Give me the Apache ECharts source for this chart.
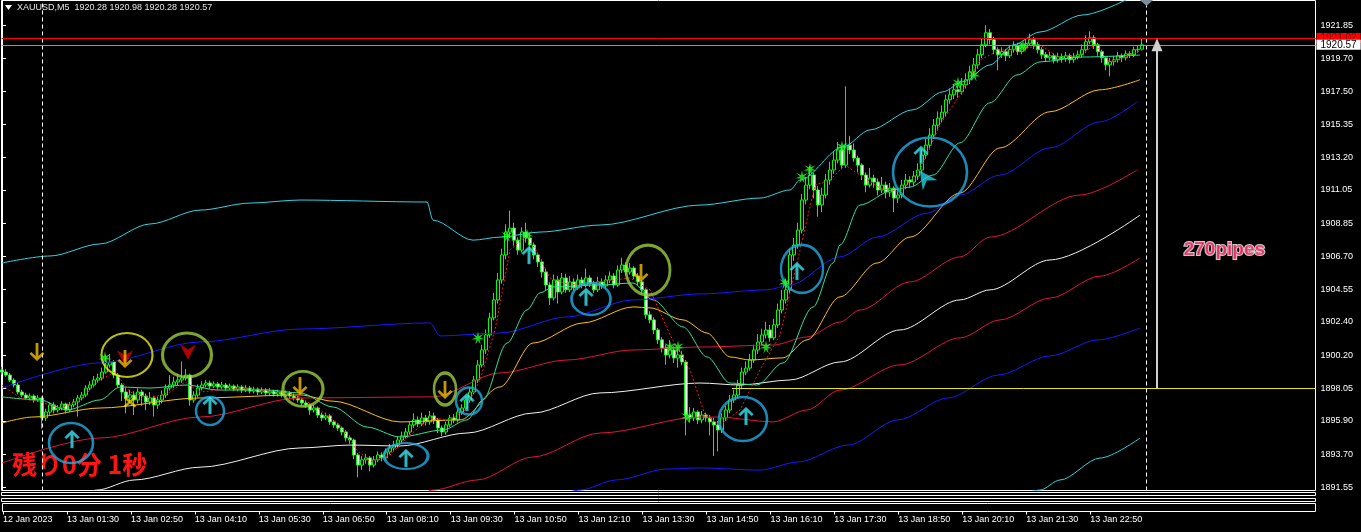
<!DOCTYPE html>
<html><head><meta charset="utf-8">
<script src="https://cdn.jsdelivr.net/npm/echarts@6/dist/echarts.min.js"></script>
<style>html,body{margin:0;padding:0;background:#000;overflow:hidden}#c{width:1361px;height:532px}</style>
</head><body><div id="c"></div>
<script>
// ---------- data ----------
const headerText = 'XAUUSD,M5  1920.28 1920.98 1920.28 1920.57';
const timeTicks = [0,16,32,48,64,80,96,112,128,144,160,176,192,208,224,240,256,272];
const timeLabels = ['12 Jan 2023','13 Jan 01:30','13 Jan 02:50','13 Jan 04:10','13 Jan 05:30','13 Jan 06:50','13 Jan 08:10','13 Jan 09:30','13 Jan 10:50','13 Jan 12:10','13 Jan 13:30','13 Jan 14:50','13 Jan 16:10','13 Jan 17:30','13 Jan 18:50','13 Jan 20:10','13 Jan 21:30','13 Jan 22:50'];
const priceTicks = [1891.55,1893.70,1895.90,1898.05,1900.20,1902.40,1904.55,1906.70,1908.85,1911.05,1913.20,1915.35,1917.50,1919.70,1921.85];

const opens = [1899.25,1899.11,1898.91,1898.58,1898.26,1897.80,1897.60,1897.41,1897.54,1897.28,
1897.41,1896.10,1896.49,1896.95,1896.62,1896.75,1897.01,1896.62,1896.95,1897.15,
1897.41,1897.60,1898.06,1898.26,1898.59,1898.72,1899.11,1899.57,1899.77,1898.91,
1898.26,1897.80,1897.41,1897.60,1897.28,1897.80,1897.54,1897.15,1897.41,1896.95,
1897.28,1897.60,1898.06,1898.26,1898.46,1898.59,1898.72,1898.91,1897.28,1897.60,
1898.06,1898.26,1898.39,1898.19,1898.33,1898.13,1898.26,1898.06,1898.19,1897.99,
1898.13,1897.93,1898.06,1897.86,1897.99,1897.80,1897.93,1897.74,1897.86,1897.67,
1897.80,1897.60,1897.74,1897.54,1897.41,1897.28,1897.08,1896.95,1896.62,1896.75,
1896.29,1896.10,1896.23,1895.84,1895.64,1895.44,1895.18,1894.79,1894.65,1893.67,
1893.01,1893.35,1893.48,1893.01,1893.35,1893.67,1893.48,1893.87,1894.13,1894.33,
1894.65,1894.92,1895.18,1895.64,1895.97,1895.71,1896.10,1895.84,1896.23,1895.97,
1895.44,1895.18,1895.64,1896.10,1895.97,1896.49,1896.75,1897.28,1897.80,1898.59,
1899.57,1900.56,1901.54,1902.66,1903.84,1905.15,1906.79,1908.29,1908.55,1907.76,
1907.11,1908.29,1907.90,1907.44,1906.79,1906.33,1905.67,1904.82,1903.97,1905.15,
1904.36,1905.28,1904.50,1905.02,1904.63,1905.15,1904.82,1905.28,1904.89,1904.50,
1905.02,1904.76,1905.15,1905.41,1904.82,1905.80,1906.13,1905.67,1905.93,1905.41,
1905.02,1904.50,1902.86,1902.53,1901.87,1901.22,1900.69,1900.23,1900.56,1900.03,
1900.23,1899.77,1896.29,1896.10,1896.49,1895.97,1896.29,1896.10,1895.84,1895.64,
1895.31,1896.10,1896.62,1897.28,1897.60,1898.26,1899.11,1899.37,1899.90,1900.56,
1901.08,1901.54,1901.87,1901.35,1902.20,1903.18,1903.84,1904.50,1906.79,1907.44,
1908.42,1910.39,1911.37,1912.03,1911.05,1910.07,1910.72,1911.70,1912.36,1913.01,
1913.67,1912.68,1913.99,1913.67,1913.14,1912.68,1912.03,1911.37,1911.83,1911.57,
1911.05,1911.37,1910.91,1911.17,1910.52,1910.72,1911.37,1911.70,1911.57,1911.96,
1912.36,1913.34,1913.99,1914.65,1915.30,1915.76,1916.15,1916.96,1917.29,1917.62,
1917.49,1917.95,1918.28,1918.80,1919.26,1919.92,1920.57,1921.36,1920.90,1920.25,
1919.92,1920.12,1919.85,1920.25,1920.51,1920.12,1920.38,1920.64,1920.90,1920.57,
1920.25,1919.92,1919.72,1919.85,1919.59,1919.79,1919.66,1919.85,1919.59,1919.79,
1919.92,1920.25,1920.77,1921.03,1920.57,1920.12,1919.72,1919.26,1919.46,1919.59,
1919.85,1919.72,1919.98,1919.92,1920.25,1920.28];

const closes = [1899.11,1898.91,1898.58,1898.26,1897.80,1897.60,1897.41,1897.54,1897.28,1897.41,
1896.10,1896.49,1896.95,1896.62,1896.75,1897.01,1896.62,1896.95,1897.15,1897.41,
1897.60,1898.06,1898.26,1898.59,1898.72,1899.11,1899.57,1899.77,1898.91,1898.26,
1897.80,1897.41,1897.60,1897.28,1897.80,1897.54,1897.15,1897.41,1896.95,1897.28,
1897.60,1898.06,1898.26,1898.46,1898.59,1898.72,1898.91,1897.28,1897.60,1898.06,
1898.26,1898.39,1898.19,1898.33,1898.13,1898.26,1898.06,1898.19,1897.99,1898.13,
1897.93,1898.06,1897.86,1897.99,1897.80,1897.93,1897.74,1897.86,1897.67,1897.80,
1897.60,1897.74,1897.54,1897.41,1897.28,1897.08,1896.95,1896.62,1896.75,1896.29,
1896.10,1896.23,1895.84,1895.64,1895.44,1895.18,1894.79,1894.65,1893.67,1893.01,
1893.35,1893.48,1893.01,1893.35,1893.67,1893.48,1893.87,1894.13,1894.33,1894.65,
1894.92,1895.18,1895.64,1895.97,1895.71,1896.10,1895.84,1896.23,1895.97,1895.44,
1895.18,1895.64,1896.10,1895.97,1896.49,1896.75,1897.28,1897.80,1898.59,1899.57,
1900.56,1901.54,1902.66,1903.84,1905.15,1906.79,1908.29,1908.55,1907.76,1907.11,
1908.29,1907.90,1907.44,1906.79,1906.33,1905.67,1904.82,1903.97,1905.15,1904.36,
1905.28,1904.50,1905.02,1904.63,1905.15,1904.82,1905.28,1904.89,1904.50,1905.02,
1904.76,1905.15,1905.41,1904.82,1905.80,1906.13,1905.67,1905.93,1905.41,1905.02,
1904.50,1902.86,1902.53,1901.87,1901.22,1900.69,1900.23,1900.56,1900.03,1900.23,
1899.77,1896.29,1896.10,1896.49,1895.97,1896.29,1896.10,1895.84,1895.64,1895.31,
1896.10,1896.62,1897.28,1897.60,1898.26,1899.11,1899.37,1899.90,1900.56,1901.08,
1901.54,1901.87,1901.35,1902.20,1903.18,1903.84,1904.50,1906.79,1907.44,1908.42,
1910.39,1911.37,1912.03,1911.05,1910.07,1910.72,1911.70,1912.36,1913.01,1913.67,
1912.68,1913.99,1913.67,1913.14,1912.68,1912.03,1911.37,1911.83,1911.57,1911.05,
1911.37,1910.91,1911.17,1910.52,1910.72,1911.37,1911.70,1911.57,1911.96,1912.36,
1913.34,1913.99,1914.65,1915.30,1915.76,1916.15,1916.96,1917.29,1917.62,1917.49,
1917.95,1918.28,1918.80,1919.26,1919.92,1920.57,1921.36,1920.90,1920.25,1919.92,
1920.12,1919.85,1920.25,1920.51,1920.12,1920.38,1920.64,1920.90,1920.57,1920.25,
1919.92,1919.72,1919.85,1919.59,1919.79,1919.66,1919.85,1919.59,1919.79,1919.92,
1920.25,1920.77,1921.03,1920.57,1920.12,1919.72,1919.26,1919.46,1919.59,1919.85,
1919.72,1919.98,1919.92,1920.25,1920.28,1920.57];

const highs = [1899.45,1899.30,1899.05,1898.70,1898.40,1897.95,1897.75,1897.70,1897.65,1897.60,
1897.50,1896.70,1897.10,1897.15,1896.95,1897.20,1897.10,1897.15,1897.35,1897.60,
1897.80,1898.25,1898.50,1898.85,1899.00,1899.40,1900.20,1900.30,1899.90,1899.05,
1898.40,1898.10,1897.95,1897.85,1898.05,1897.95,1897.70,1897.80,1897.55,1897.50,
1897.90,1898.30,1898.90,1898.80,1899.00,1899.80,1899.30,1899.00,1897.85,1898.30,
1898.50,1898.60,1898.55,1898.50,1898.45,1898.45,1898.40,1898.35,1898.30,1898.30,
1898.25,1898.25,1898.20,1898.15,1898.10,1898.10,1898.05,1898.05,1897.95,1897.95,
1897.90,1897.90,1897.85,1897.70,1897.55,1897.40,1897.20,1897.05,1896.95,1896.85,
1896.45,1896.45,1896.35,1895.95,1895.75,1895.55,1895.30,1894.95,1894.75,1893.80,
1893.60,1893.75,1893.60,1893.60,1893.90,1893.85,1894.10,1894.40,1894.60,1894.90,
1895.20,1895.45,1895.90,1896.40,1896.20,1896.45,1896.30,1896.55,1896.45,1896.10,
1895.60,1895.85,1896.30,1896.35,1896.70,1897.00,1897.55,1898.10,1898.85,1899.90,
1900.90,1901.90,1903.00,1904.30,1905.60,1907.20,1908.80,1909.70,1908.90,1907.95,
1908.60,1908.90,1908.20,1907.60,1906.95,1906.50,1905.90,1905.00,1905.50,1905.40,
1905.60,1905.55,1905.40,1905.25,1905.50,1905.35,1905.90,1905.45,1905.10,1905.35,
1905.25,1905.45,1905.70,1905.60,1906.10,1906.60,1906.30,1906.25,1906.05,1905.60,
1905.15,1904.60,1903.10,1902.70,1902.00,1901.40,1900.90,1901.20,1900.80,1900.70,
1900.50,1899.90,1896.80,1896.75,1896.60,1896.55,1896.45,1896.30,1896.10,1895.90,
1896.40,1896.90,1897.60,1897.95,1898.60,1899.40,1899.80,1900.30,1900.90,1901.60,
1901.95,1902.40,1902.20,1902.60,1903.60,1904.50,1905.20,1907.20,1907.90,1908.90,
1910.80,1911.90,1912.60,1912.20,1911.30,1911.20,1912.10,1912.90,1913.60,1914.20,
1913.90,1917.85,1914.60,1914.10,1913.30,1912.80,1912.20,1912.50,1912.05,1911.80,
1911.90,1911.60,1911.50,1911.30,1911.20,1911.70,1912.10,1911.95,1912.30,1912.80,
1913.70,1914.40,1915.10,1915.70,1916.20,1916.60,1917.30,1917.70,1918.00,1917.90,
1918.40,1918.70,1919.20,1919.70,1920.30,1921.00,1921.85,1921.60,1921.10,1920.40,
1920.40,1920.30,1920.55,1920.80,1920.70,1920.70,1921.00,1921.30,1921.10,1920.75,
1920.40,1920.10,1920.10,1920.00,1920.05,1920.00,1920.10,1920.00,1920.05,1920.20,
1920.60,1921.20,1921.45,1921.20,1920.70,1920.25,1919.85,1919.70,1919.85,1920.10,
1920.00,1920.20,1920.15,1920.45,1920.50,1920.98];

const lows = [1898.95,1898.80,1898.45,1898.10,1897.65,1897.45,1897.30,1897.25,1897.10,1897.15,
1895.40,1895.90,1896.30,1896.40,1896.45,1896.60,1896.40,1896.50,1896.80,1896.20,
1897.25,1897.45,1897.90,1898.10,1898.40,1898.55,1899.00,1899.40,1898.70,1898.05,
1897.20,1896.40,1897.10,1896.30,1897.05,1896.90,1896.60,1896.95,1896.20,1896.70,
1897.05,1897.40,1897.90,1898.05,1898.25,1898.40,1898.55,1896.90,1897.10,1897.45,
1897.90,1898.10,1898.00,1898.05,1897.95,1898.00,1897.90,1897.95,1897.85,1897.85,
1897.75,1897.80,1897.70,1897.70,1897.60,1897.65,1897.55,1897.60,1897.50,1897.50,
1897.45,1897.45,1897.35,1897.25,1897.10,1896.90,1896.75,1896.30,1896.45,1896.10,
1895.90,1895.95,1895.65,1895.45,1895.25,1894.95,1894.55,1894.40,1893.40,1892.20,
1892.70,1893.10,1892.60,1892.85,1893.20,1893.25,1893.30,1893.70,1893.95,1894.15,
1894.45,1894.75,1895.00,1895.45,1895.50,1895.55,1895.60,1895.65,1895.70,1895.10,
1894.90,1895.00,1895.50,1895.75,1895.80,1896.30,1896.60,1897.10,1897.65,1898.40,
1899.40,1900.30,1901.35,1902.50,1903.60,1904.90,1906.50,1907.90,1907.40,1906.80,
1906.95,1907.60,1907.10,1906.50,1906.00,1905.30,1904.50,1903.50,1903.80,1903.60,
1904.20,1904.30,1904.35,1904.45,1904.50,1904.60,1904.65,1904.70,1904.30,1904.35,
1904.55,1904.60,1904.95,1904.60,1904.70,1905.60,1905.45,1905.50,1905.20,1904.80,
1904.25,1902.60,1902.30,1901.60,1900.95,1900.40,1899.60,1900.00,1899.70,1899.40,
1899.55,1894.95,1895.80,1895.90,1895.70,1895.75,1895.85,1894.95,1893.60,1893.90,
1895.10,1895.90,1896.40,1897.10,1897.40,1898.00,1898.90,1899.20,1899.70,1900.30,
1900.85,1901.30,1901.10,1901.20,1902.00,1902.95,1903.60,1904.30,1906.40,1907.20,
1908.20,1910.10,1911.10,1910.50,1909.30,1909.60,1910.50,1911.40,1912.10,1912.80,
1912.40,1912.50,1913.40,1912.90,1912.20,1911.70,1910.90,1911.20,1911.20,1910.70,
1910.85,1910.50,1910.60,1909.60,1910.20,1910.50,1911.10,1911.20,1911.30,1911.70,
1912.10,1913.10,1913.70,1914.40,1915.00,1915.50,1915.90,1916.70,1917.00,1917.10,
1917.30,1917.70,1918.00,1918.55,1919.00,1919.70,1920.40,1920.60,1919.95,1918.90,
1919.70,1919.50,1919.70,1920.05,1919.90,1919.95,1920.20,1920.50,1920.30,1920.00,
1919.65,1919.45,1919.55,1919.35,1919.40,1919.40,1919.45,1919.35,1919.40,1919.60,
1919.75,1920.05,1920.60,1920.30,1919.85,1919.40,1918.90,1918.50,1919.20,1919.40,
1919.45,1919.55,1919.70,1919.75,1920.05,1920.28];

// indicator lines: [bar index, price]
const cyanUpper = [[0,1906.26],[12,1906.72],[24.5,1907.51],[37,1908.82],[49.5,1909.73],[62,1910.19],[74.5,1910.39],[106.25,1910.26],[107.75,1909.07],[117.75,1907.76],[124.5,1907.96],[134.5,1908.29],[149.5,1908.75],[174.5,1910.06],[189.5,1910.52],[197,1911.05],[199.5,1911.70],[210.25,1913.87],[217,1914.99],[227.75,1916.31],[235.25,1917.49],[240.25,1918.15],[247,1919.25],[252.75,1920.56],[259.5,1921.41],[270.25,1922.53],[282,1923.65]];
const blueUpper = [[0,1898.06],[24.5,1899.71],[49.5,1901.08],[74.5,1901.93],[107,1902.33],[109.5,1901.48],[124.5,1901.67],[141.25,1902.72],[157.75,1903.84],[174.5,1904.23],[191.25,1904.50],[197,1904.82],[209.5,1906.66],[218.75,1907.96],[231.25,1909.53],[239.5,1910.72],[249.5,1912.03],[262,1913.81],[274.5,1915.52],[283.75,1916.83]];
const yellowMa = [[0,1895.77],[7.75,1896.16],[24.5,1896.75],[49.5,1897.41],[74.5,1897.61],[82.75,1897.20],[99.5,1895.84],[114.5,1895.97],[124.5,1898.13],[132.75,1901.01],[145.25,1902.33],[157.75,1903.38],[162,1903.32],[170.25,1902.53],[176.25,1901.67],[182,1900.10],[187,1899.90],[195.25,1900.04],[201.25,1901.22],[209.5,1904.04],[218.75,1906.26],[227,1907.96],[239.5,1910.85],[249.5,1913.81],[262,1916.18],[274.5,1917.62],[284.5,1918.28]];
const redUpper = [[0,1893.14],[24.5,1894.78],[49.5,1896.16],[74.5,1897.41],[107.75,1897.48],[124.5,1899.05],[141.25,1899.90],[157.75,1900.56],[174.5,1900.75],[192.75,1900.88],[201.25,1901.41],[209.5,1902.39],[214.5,1903.18],[227,1905.02],[239.5,1906.66],[247,1907.96],[269.5,1910.72],[283.75,1912.36]];
const whiteBand = [[20,1891.10],[23.75,1891.37],[33,1892.03],[49.5,1892.87],[74.5,1894.13],[87,1894.32],[99.5,1894.26],[116.25,1895.11],[132.75,1896.42],[149.5,1897.74],[174.5,1898.39],[184.5,1898.26],[197,1898.59],[209.5,1899.77],[224.5,1901.87],[239.5,1903.84],[247,1904.50],[262,1906.46],[284.5,1909.40]];
const redLower = [[105,1891.10],[107.75,1891.37],[118.75,1892.03],[132.75,1893.54],[149.5,1895.11],[174.5,1896.16],[178.75,1896.16],[192.75,1895.84],[201.25,1896.62],[209.5,1897.93],[224.5,1899.58],[239.5,1901.35],[249.5,1902.53],[262,1903.96],[274.5,1905.40],[284.5,1906.59]];
const blueLower = [[140,1891.10],[144.5,1891.37],[153.5,1892.03],[166.25,1892.75],[174.5,1892.82],[189.5,1892.68],[199,1893.21],[211.5,1894.32],[224,1895.97],[236.5,1897.41],[249,1898.91],[262,1900.17],[274,1901.22],[284.5,1902.00]];
const cyanLower = [[255,1891.10],[259.5,1891.37],[264.5,1892.03],[274.5,1893.47],[284.5,1894.78]];
const greenMa = [[0,1897.48],[9.5,1897.28],[16.25,1896.62],[24.5,1897.28],[29.5,1898.13],[37,1898.06],[46.25,1898.26],[53.75,1897.93],[66.25,1897.93],[74.5,1897.74],[82.75,1896.82],[91.25,1895.50],[99.5,1894.85],[110.25,1895.31],[116.25,1895.97],[120.25,1897.28],[126.25,1901.01],[131.25,1903.18],[134.5,1904.30],[137.75,1904.69],[149.5,1904.82],[157.75,1904.95],[162.75,1903.84],[170.25,1902.07],[176.25,1900.10],[182,1898.39],[188.75,1898.26],[195.25,1899.71],[202.75,1903.37],[207.75,1906.26],[209.5,1907.44],[214.5,1910.06],[222.75,1911.05],[227,1911.24],[232.75,1912.03],[239.5,1914.14],[247,1916.77],[253.75,1918.59],[259.5,1919.45],[270.25,1919.77],[284.5,1919.90]];
const redFast = [[0,1898.26],[4.5,1897.41],[9.5,1897.15],[14.5,1896.75],[19.5,1897.28],[24.5,1898.59],[28.25,1899.12],[32,1897.80],[37,1897.41],[42,1897.80],[45.75,1898.46],[49.5,1897.80],[59.5,1898.06],[69.5,1897.80],[74.5,1897.48],[79.5,1896.62],[84.5,1895.64],[88.25,1894.13],[92,1893.21],[97,1893.67],[102,1894.98],[107,1896.10],[112,1895.97],[115.75,1896.62],[119.5,1898.59],[123.25,1901.87],[127,1907.11],[130.75,1907.96],[133.25,1907.24],[137,1905.28],[142,1904.82],[149.5,1905.02],[157,1905.28],[162,1904.50],[167,1901.54],[172,1899.25],[175.75,1896.29],[179.5,1895.64],[184.5,1896.62],[189.5,1899.25],[194.5,1901.54],[199.5,1907.11],[203.25,1911.37],[207,1911.70],[210.75,1912.69],[214.5,1912.03],[219.5,1911.18],[224.5,1910.91],[229.5,1912.36],[234.5,1915.33],[239.5,1917.29],[244.5,1919.59],[249.5,1920.23],[254.5,1920.23],[259.5,1920.56],[264.5,1919.71],[269.5,1919.90],[273.25,1920.56],[277,1919.45],[282,1919.90],[285,1920.23]];

// levels & annotations
const dayBreaks = [10, 286.1];
const askLevel = 1921.02;
const bidLevel = 1920.57;
const baseLevel = 1898.05;
const baseStart = 182.5;
const moveArrowAt = 288.75;
const moveLabel = '270pipes';
const moveLabelAt = [305.6, 1907.11];
const timerText = '残り0分 1秒';
const cyanRings = [[17.25,1894.46],[52,1896.55],[101,1893.60],[116.75,1897.21],[147.25,1903.90],[185.25,1896.03],[200,1905.87],[232,1912.23]];
const yellowRings = [[31.25,1900.23]];
const greenRings = [[46.25,1900.23],[75.25,1898.00],[110.75,1898.00],[161.5,1905.80]];
const cyanUpArrows = [[17.5,1894.72],[52,1896.95],[101,1893.47],[116.25,1897.14],[146,1904.04],[131.75,1906.79],[186,1896.23],[198.75,1905.74],[229.75,1913.36]];
const yellowDownArrows = [[8.75,1900.43],[30.75,1899.97],[74.5,1898.20],[110.75,1897.94],[159.75,1905.61]];
const redHeads = [[30.75,1900.05],[46.5,1900.42]];
const cyanHeads = [[230.75,1911.83]];
const crossMarks = [[32,1897.15]];
const starMarks = [[25.75,1900.04],[119,1901.35],[126.25,1908.04],[131.25,1908.10],[167,1900.75],[169,1900.75],[171.25,1896.16],[191,1900.75],[195.75,1904.95],[200,1911.90],[202,1912.42],[210,1913.87],[239,1918.06],[243,1918.59],[255.25,1920.49]];

// ---------- chart ----------
const XMIN = -0.125, XMAX = 328.375, YMIN = 1891.341, YMAX = 1923.476;
const FONT = 'Liberation Sans';
const cyanRingSizes = [[44,40],[28,28],[44,26],[26,27],[39,32],[48,44],[42,48],[74,69]];
const greenRingSizes = [[49,44],[40,35],[22,32],[44,50]];
const RING = 'path://M0,50 A50,50 0 1,1 100,50 A50,50 0 1,1 0,50 Z';
const ARROW = 'path://M8,0 L16,8 L14,10 L9.5,5.5 L9.5,20 L6.5,20 L6.5,5.5 L2,10 L0,8 Z';
const STAR = 'path://M50,0 L58,35 L93,20 L66,47 L100,60 L62,62 L70,100 L50,70 L30,100 L38,62 L0,60 L34,47 L7,20 L42,35 Z';
const CROSS = 'path://M0,2 L2,0 L7,5 L12,0 L14,2 L9,7 L14,12 L12,14 L7,9 L2,14 L0,12 L5,7 Z';
const HEAD = 'path://M0,0 L8,5 L16,0 L8,15 Z';
const UPHEAD = 'path://M8,0 L16,18 L8,12 L0,18 Z';

const candles = closes.map((c, i) => [i, opens[i], c, lows[i], highs[i]]);

function band(data, color, extra) {
  return Object.assign({
    type: 'line', data, xAxisIndex: 0, yAxisIndex: 0, symbol: 'none', silent: true,
    smooth: 0.3, smoothMonotone: 'x', z: 3,
    lineStyle: { color, width: 1 }
  }, extra || {});
}
function marks(data, symbol, size, itemStyle, extra) {
  return Object.assign({
    type: 'scatter', data, xAxisIndex: 0, yAxisIndex: 0, symbol, symbolSize: size,
    silent: true, z: 5, itemStyle
  }, extra || {});
}

const option = {
  backgroundColor: '#000',
  animation: false,
  textStyle: { fontFamily: FONT },
  grid: [
    { left: 1.5, top: 0.5, width: 1314, height: 490, show: true, borderColor: '#fff', borderWidth: 1, backgroundColor: 'transparent' },
    { left: 1.5, top: 492.5, width: 1314, height: 3, show: true, borderColor: '#fff', borderWidth: 1, backgroundColor: 'transparent' },
    { left: 1.5, top: 498.5, width: 1314, height: 3, show: true, borderColor: '#fff', borderWidth: 1, backgroundColor: 'transparent' },
    { left: 1.5, top: 503.5, width: 1314, height: 8, show: true, borderColor: '#fff', borderWidth: 1, backgroundColor: 'transparent' }
  ],
  xAxis: [
    { gridIndex: 0, type: 'value', min: XMIN, max: XMAX, show: false },
    { gridIndex: 1, type: 'value', min: XMIN, max: XMAX, show: false },
    { gridIndex: 2, type: 'value', min: XMIN, max: XMAX, show: false },
    { gridIndex: 3, type: 'value', min: XMIN, max: XMAX,
      axisLine: { show: false }, splitLine: { show: false },
      axisTick: { show: true, customValues: timeTicks, length: 3, lineStyle: { color: '#fff' } },
      axisLabel: { show: true, customValues: timeTicks, color: '#fff', fontSize: 9, fontFamily: FONT, align: 'left', margin: 4,
        formatter: v => { const k = timeTicks.indexOf(v); return k >= 0 ? timeLabels[k] : ''; } } }
  ],
  yAxis: [
    { gridIndex: 0, type: 'value', position: 'right', min: YMIN, max: YMAX, scale: true,
      axisLine: { show: true, lineStyle: { color: '#fff' } }, splitLine: { show: false },
      axisTick: { show: true, customValues: priceTicks, length: 4, lineStyle: { color: '#fff' } },
      axisLabel: { show: true, customValues: priceTicks, color: '#fff', fontSize: 9, fontFamily: FONT, margin: 5,
        formatter: v => v.toFixed(2) } },
    { gridIndex: 1, type: 'value', min: 0, max: 1, show: false },
    { gridIndex: 2, type: 'value', min: 0, max: 1, show: false },
    { gridIndex: 3, type: 'value', min: 0, max: 1, show: false }
  ],
  series: [
    band(cyanUpper, '#2fd3e3'),
    band(blueUpper, '#1818ff'),
    band(redUpper, '#e0143c'),
    band(whiteBand, '#f0f0f0'),
    band(redLower, '#e0143c'),
    band(blueLower, '#1818ff'),
    band(cyanLower, '#2fd3e3'),
    {
      type: 'candlestick', data: candles, xAxisIndex: 0, yAxisIndex: 0, barWidth: 3, silent: true, z: 2,
      itemStyle: { color: '#000', color0: '#ffffff', borderColor: '#00ff00', borderColor0: '#00ff00', borderColorDoji: '#00ff00', borderWidth: 1 },
      markLine: {
        silent: true, animation: false, symbol: ['none', 'none'],
        data: [
          [{ coord: [baseStart, baseLevel] }, { coord: [XMAX, baseLevel], lineStyle: { color: '#e6e600', width: 1, type: 'solid' }, label: { show: false } }],
          { xAxis: dayBreaks[0], lineStyle: { color: '#fff', width: 1, type: [4, 3] }, label: { show: false } },
          { xAxis: dayBreaks[1], lineStyle: { color: '#fff', width: 1, type: [4, 3] }, label: { show: false } },
          { yAxis: askLevel, lineStyle: { color: '#ff0000', width: 1, type: 'solid' },
            label: { show: true, position: 'end', distance: 1, formatter: askLevel.toFixed(2), color: '#8a0000', backgroundColor: '#ff0000', fontSize: 10, fontFamily: FONT, padding: [0, 4, 0, 4], lineHeight: 10 } },
          { yAxis: bidLevel, lineStyle: { color: '#8a98a6', width: 1, type: 'solid' },
            label: { show: true, position: 'end', distance: 1, formatter: bidLevel.toFixed(2), color: '#000', backgroundColor: '#fff', fontSize: 10, fontFamily: FONT, padding: [0, 4, 0, 4], lineHeight: 10 } }
        ]
      }
    },
    band(yellowMa, '#ffc107', { z: 3 }),
    band(greenMa, '#2de39a', { z: 3 }),
    band(redFast, '#ff1010', { smooth: false, lineStyle: { color: '#ff1010', width: 1, type: [2, 2] }, z: 4 }),
    {
      type: 'line', data: [], xAxisIndex: 0, yAxisIndex: 0, silent: true, z: 6,
      markLine: {
        silent: true, animation: false, symbol: ['none', 'triangle'], symbolSize: 12,
        lineStyle: { color: '#d0d0d0', width: 2, type: 'solid' }, label: { show: false },
        data: [[{ coord: [moveArrowAt, baseLevel] }, { coord: [moveArrowAt, bidLevel], symbol: 'triangle', symbolSize: [11, 13], itemStyle: { color: '#ffffff', borderColor: '#888', borderWidth: 1 } }]]
      }
    },
    marks(cyanRings.map((p, i) => ({ value: p, symbolSize: cyanRingSizes[i] })), RING, 20, { color: 'rgba(0,0,0,0)', borderColor: '#1eaee6', borderWidth: 2.5 }),
    marks(yellowRings, RING, [51, 44], { color: 'rgba(0,0,0,0)', borderColor: '#ecec10', borderWidth: 2 }),
    marks(greenRings.map((p, i) => ({ value: p, symbolSize: greenRingSizes[i] })), RING, 20, { color: 'rgba(0,0,0,0)', borderColor: '#9ccc3c', borderWidth: 3 }),
    marks(redHeads, HEAD, [16, 15], { color: '#e00000' }),
    marks(yellowDownArrows, ARROW, [15, 18], { color: '#f2bd00' }, { symbolRotate: 180, z: 6 }),
    marks(cyanUpArrows, ARROW, [15, 18], { color: '#40e8f0', borderColor: '#108090', borderWidth: 0.5 }, { z: 6 }),
    marks(cyanHeads, UPHEAD, [18, 18], { color: '#22d0e2' }, { symbolRotate: 35 }),
    marks(crossMarks, CROSS, [13, 11], { color: '#f5d800' }),
    marks(starMarks, STAR, 13, { color: '#22ff22' }),
    {
      type: 'scatter', data: [moveLabelAt], xAxisIndex: 0, yAxisIndex: 0, symbol: 'circle', symbolSize: 1, silent: true, z: 7,
      itemStyle: { color: 'rgba(0,0,0,0)' },
      label: { show: true, position: 'inside', formatter: moveLabel, fontSize: 19, fontWeight: 'bold', fontFamily: FONT,
        color: '#ff1f5c', textBorderColor: '#ffffff', textBorderWidth: 2 }
    }
  ],
  graphic: [
    { type: 'polygon', shape: { points: [[5, 5], [12, 5], [8.5, 10]] }, style: { fill: '#fff' }, silent: true },
    { type: 'text', left: 17, top: 3, style: { text: headerText, fill: '#e6e6e6', font: '9px "Liberation Sans"' }, silent: true },
    { type: 'polygon', shape: { points: [[1140, 0], [1153, 0], [1146.5, 6]] }, style: { fill: '#7d8c9b' }, silent: true, z: 10 },
    { type: 'text', left: 12, top: 452, style: { text: timerText, fill: '#ff1414', font: 'bold 25px "Noto Sans CJK JP"' }, silent: true }
  ]
};
const chart = echarts.init(document.getElementById('c'));
chart.setOption(option);
</script>
</body></html>
